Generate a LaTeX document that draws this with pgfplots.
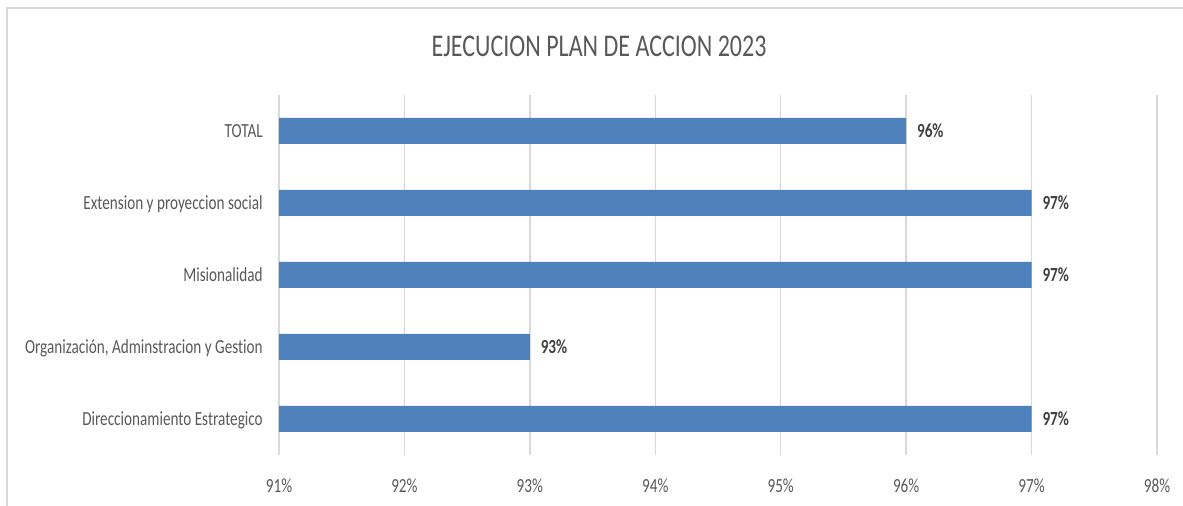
\documentclass[border=0pt]{standalone}
\usepackage{fontspec}
\setmainfont{Carlito}[FakeStretch=0.76, Ligatures={NoCommon}]
\usepackage{pgfplots}
\pgfplotsset{compat=1.18}
\definecolor{barblue}{HTML}{4F81BD}
\definecolor{txtgray}{HTML}{595959}
\definecolor{lblgray}{HTML}{404040}
\definecolor{gridgray}{HTML}{D9D9D9}
\begin{document}
\begin{tikzpicture}
\useasboundingbox (0,0) rectangle (887.25pt,379.5pt);
\draw[gridgray, line width=1.1pt] (5.25pt,-1pt) -- (5.25pt,373.5pt) -- (888pt,373.5pt);
\node[txtgray, font=\fontsize{23.7}{28}\selectfont, anchor=base, inner sep=0pt]
  at (449.25pt,336.75pt) {EJECUCION PLAN DE ACCION 2023};
\begin{axis}[
  at={(209.25pt,38.25pt)}, anchor=south west,
  scale only axis, width=658.5pt, height=270pt,
  xbar, bar width=19.5pt,
  xmin=91, xmax=98, ymin=-0.5, ymax=4.5,
  enlargelimits=false,
  xtick={91,...,98}, ytick={0,...,4},
  yticklabels={Direccionamiento Estrategico,
    {Organización, Adminstracion y Gestion\hspace{3pt}},
    Misionalidad,
    Extension y proyeccion social\hspace{3pt},
    TOTAL},
  /pgf/number format/assume math mode=true,
  xticklabel={\pgfmathprintnumber{\tick}\%},
  axis line style={draw=none},
  major tick length=0pt,
  xmajorgrids, grid style={gridgray, line width=1pt},
  tick label style={txtgray, font=\fontsize{15}{18}\selectfont, inner sep=0pt},
  xticklabel style={anchor=base, yshift=-28pt},
  yticklabel style={anchor=base east, xshift=-12pt, yshift=-4.75pt},
  nodes near coords={\pgfmathprintnumber{\pgfplotspointmeta}\%},
  point meta=x,
  nodes near coords style={lblgray, font=\fontsize{15}{18}\selectfont\bfseries,
    anchor=base west, inner sep=0pt, xshift=8pt, yshift=-4.75pt},
]
\addplot[fill=barblue, draw=none] coordinates {
  (97,0) (93,1) (97,2) (97,3) (96,4)};
\end{axis}
\end{tikzpicture}
\end{document}
